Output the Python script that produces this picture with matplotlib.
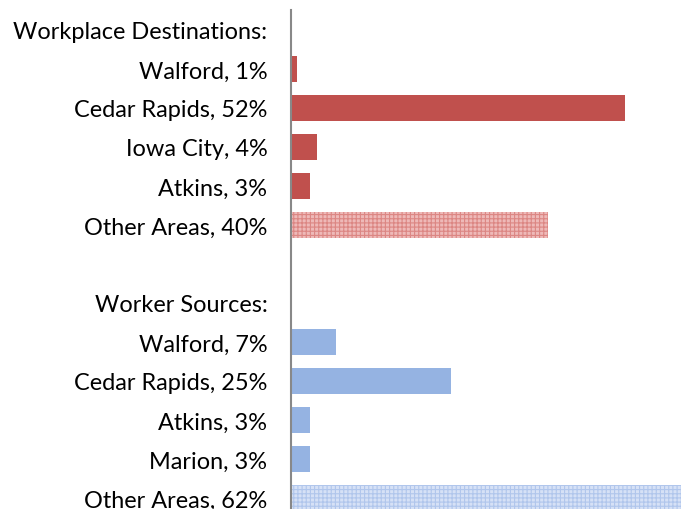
import matplotlib.pyplot as plt

# rows top to bottom, empty label rows are headers / spacer
labels = ["Workplace Destinations:", "Walford, 1%", "Cedar Rapids, 52%", "Iowa City, 4%",
          "Atkins, 3%", "Other Areas, 40%", "", "Worker Sources:", "Walford, 7%",
          "Cedar Rapids, 25%", "Atkins, 3%", "Marion, 3%", "Other Areas, 62%"]
values = [0, 1, 52, 4, 3, 40, 0, 0, 7, 25, 3, 3, 62]
group = ["", "dest", "dest", "dest", "dest", "dest_other", "", "", "src", "src", "src", "src", "src_other"]

red = "#c0504d"
blue = "#95b3e2"

plt.rcParams['font.family'] = ['Lato', 'DejaVu Sans']
plt.rcParams['hatch.linewidth'] = 0.8

fig = plt.figure(figsize=(6.81, 5.10), dpi=100)
ax = fig.add_axes([291 / 681, 0, 1 - 291 / 681, 1 - 11 / 510])

for i, (v, g) in enumerate(zip(values, group)):
    if g == "dest":
        ax.barh(i, v, height=0.67, color=red, linewidth=0)
    elif g == "dest_other":
        ax.barh(i, v, height=0.67, facecolor="#eeb9b8", edgecolor="#dc8683", hatch="++++", linewidth=0)
    elif g == "src":
        ax.barh(i, v, height=0.67, color=blue, linewidth=0)
    elif g == "src_other":
        ax.barh(i, v, height=0.67, facecolor="#d6e1f6", edgecolor="#b0c6ec", hatch="++++", linewidth=0)

ax.set_xlim(0, 60.8)
ax.set_ylim(12 + 11 / 39, -0.51)
ax.set_yticks(range(len(labels)))
ax.set_yticklabels(labels, fontsize=16.9, color="#000000")
ax.tick_params(axis='y', length=0, pad=17)
ax.set_xticks([])
for s in ["top", "right", "bottom"]:
    ax.spines[s].set_visible(False)
ax.spines["left"].set_color("#888888")
ax.spines["left"].set_linewidth(1.5)

fig.savefig("out.png", dpi=100)
